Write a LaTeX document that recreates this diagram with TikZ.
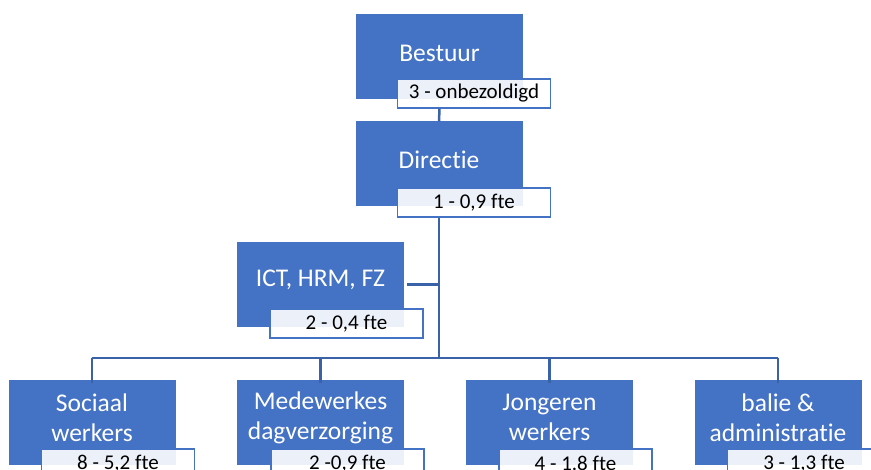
\documentclass[tikz,border=0pt]{standalone}
\usepackage{fontspec}
\setmainfont{Carlito}[RawFeature={-liga;-clig;-dlig}]
\definecolor{boxblue}{HTML}{4472C4}
\definecolor{lineblue}{HTML}{3A62A8}
\tikzset{
  mainbox/.style={rectangle,fill=boxblue,draw=none,minimum width=167pt,minimum height=85pt,inner sep=0pt},
  maintext/.style={text=white,font=\fontsize{25.5}{30}\selectfont,align=center,inner sep=0pt},
  lblbox/.style={rectangle,draw=boxblue,line width=1.5pt,fill=white,fill opacity=0.9,text opacity=1,
    minimum width=153pt,minimum height=29pt,inner sep=0pt,font=\fontsize{21}{24}\selectfont},
  conn/.style={draw=lineblue,line width=2.5pt}
}
\begin{document}
\begin{tikzpicture}[x=1pt,y=-1pt]
\clip (0,0) rectangle (871,470);
\fill[white] (0,0) rectangle (871,470);
% Bestuur
\node[mainbox] (b) at (439.5,56.5) {};
\node[maintext] (bt) at (439.5,53) {Bestuur};
\node[lblbox] (bl) at (474,93.5) {3 - onbezoldigd};
% Directie
\node[mainbox] (d) at (439,164) {};
\node[maintext] (dt) at (439,160) {Directie};
\node[lblbox] (dl) at (474,202.5) {1 - 0,9 fte};
% ICT
\node[mainbox] (i) at (320.5,284.5) {};
\node[maintext] (it) at (320.5,279.5) {ICT, HRM, FZ};
\node[lblbox] (il) at (346.5,323.5) {2 - 0,4 fte};
% bottom row
\node[mainbox] (s) at (92,422.5) {};
\node[maintext] (st) at (92,417.5) {Sociaal\\werkers};
\node[lblbox] (sl) at (118,463.5) {8 - 5,2 fte};
\node[mainbox] (m) at (320.5,422.5) {};
\node[maintext] (mt) at (320.5,417.5) {Medewerkes\\dagverzorging};
\node[lblbox] (ml) at (347.5,463.5) {2 -0,9 fte};
\node[mainbox] (j) at (549.5,422.5) {};
\node[maintext] (jt) at (549.5,417.5) {Jongeren\\werkers};
\node[lblbox] (jl) at (575.5,463.5) {4 - 1.8 fte};
\node[mainbox] (a) at (778,422.5) {};
\node[maintext] (at) at (778,417.5) {balie \&\\administratie};
\node[lblbox] (al) at (804,463.5) {3 - 1,3 fte};
% connectors
\coordinate (bus) at (439,358);
\draw[conn] (bl.south -| b.center) -- (d.north);
\draw[conn] (dl.south -| d.center) -- (bus);
\draw[conn] ([xshift=3pt]i.east) -- (i.east -| d.center);
\draw[conn] (s.north |- bus) -- (a.north |- bus);
\draw[conn] (s.north |- bus) -- ([yshift=-3pt]s.north);
\draw[conn] (m.north |- bus) -- ([yshift=-3pt]m.north);
\draw[conn] (j.north |- bus) -- ([yshift=-3pt]j.north);
\draw[conn] (a.north |- bus) -- ([yshift=-3pt]a.north);
\end{tikzpicture}
\end{document}
